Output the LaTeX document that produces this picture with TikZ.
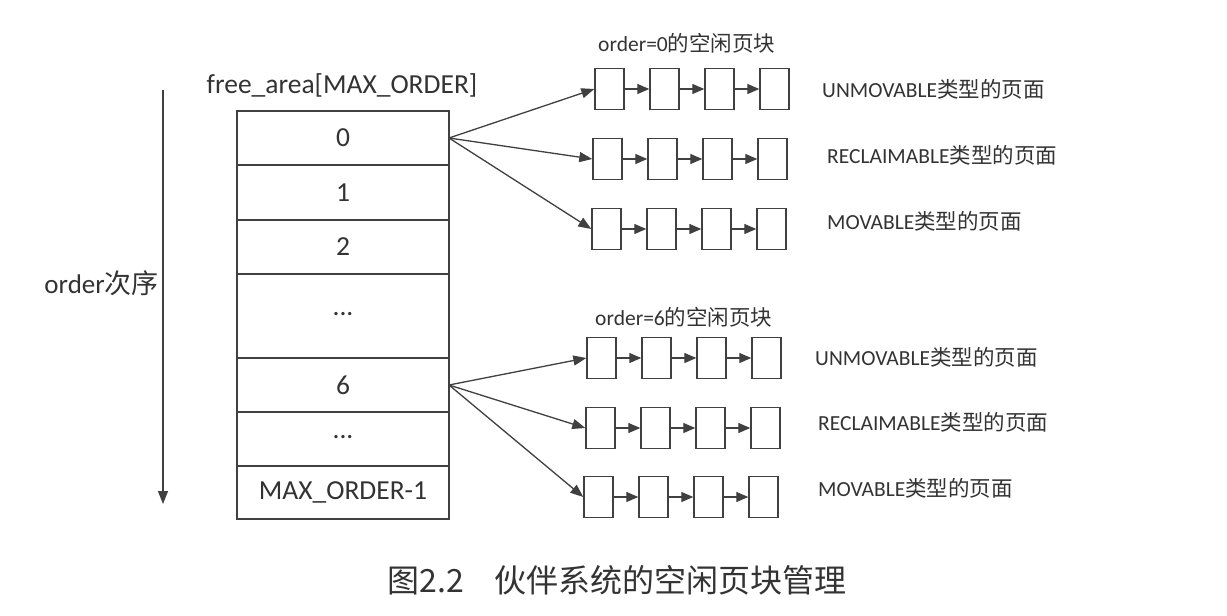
\documentclass[tikz,border=0pt]{standalone}
\usepackage{fontspec}
\setmainfont{Carlito}
\newfontfamily\cjk{Noto Sans CJK SC}
\usetikzlibrary{arrows.meta}
\definecolor{ink}{HTML}{333333}
\definecolor{linec}{HTML}{404040}
\begin{document}
\begin{tikzpicture}[x=1pt,y=-1pt,
  every node/.style={text=ink},
  cell/.style={draw=linec,line width=1.5pt,minimum width=212pt,inner sep=0pt,font=\fontsize{27.5}{32}\selectfont},
  pg/.style={draw=linec,line width=1.4pt,minimum width=29pt,minimum height=41pt,inner sep=0pt},
  lbl/.style={anchor=west,inner sep=0pt,font=\fontsize{21.5}{26}\selectfont},
  hdr/.style={anchor=west,inner sep=0pt,font=\fontsize{21.5}{26}\selectfont},
  arr/.style={draw=linec,line width=1.3pt,-{Triangle[length=13pt,width=10pt]}},
  link/.style={draw=linec,line width=1.3pt,-{Triangle[length=12pt,width=10pt]}}
]
\useasboundingbox (0,0) rectangle (1227,616);
\fill[white] (0,0) rectangle (1227,616);

% header of the array
\node[inner sep=0pt,font=\fontsize{27.5}{32}\selectfont] (fa) at (342,85) {free\_area[MAX\_ORDER]};

% table cells
\node[cell,minimum height=54pt] (t0) at (343,138) {0};
\node[cell,minimum height=55pt] (t1) at (343,192.5) {1};
\node[cell,minimum height=54pt] (t2) at (343,247) {2};
\node[cell,minimum height=84pt] (t3) at (343,316) {\raisebox{4pt}{...}};
\node[cell,minimum height=54pt] (t6) at (343,385) {6};
\node[cell,minimum height=54pt] (t7) at (343,439) {\raisebox{4pt}{...}};
\node[cell,minimum height=53pt] (t8) at (343,492.5) {MAX\_ORDER-1};

% order axis
\coordinate (os) at (163,90);
\coordinate (oe) at (163,504);
\draw[arr] (os) -- (oe);
\node[anchor=east,inner sep=0pt,font=\fontsize{27}{32}\selectfont] (ord) at (159,283) {order{\cjk\fontsize{27}{32}\selectfont 次序}};

% page lists
\foreach \r/\x/\y in {1/595/89, 2/593/159, 3/592/229, 4/587/358, 5/586/428, 6/584/497}{
  \foreach \i in {1,2,3,4}{
    \node[pg] (b\r-\i) at ({\x+14.5+55*(\i-1)},\y) {};
  }
  \draw[link] (b\r-1.east) -- (b\r-2.west);
  \draw[link] (b\r-2.east) -- (b\r-3.west);
  \draw[link] (b\r-3.east) -- (b\r-4.west);
}

% fan-out arrows
\coordinate (s0) at (449,138);
\coordinate (s6) at (449,385);
\draw[arr] (s0) -- (b1-1.west);
\draw[arr] (s0) -- (b2-1.west);
\draw[arr] (s0) -- (b3-1.west);
\draw[arr] (s6) -- (b4-1.west);
\draw[arr] (s6) -- (b5-1.west);
\draw[arr] (s6) -- (b6-1.west);

% group headers
\node[hdr] (h0) at (598,43) {order=0{\cjk 的空闲页块}};
\node[hdr] (h6) at (595,317) {order=6{\cjk 的空闲页块}};

% type labels
\node[lbl] (l1) at (822,89) {UNMOVABLE{\cjk 类型的页面}};
\node[lbl] (l2) at (827,155) {RECLAIMABLE{\cjk 类型的页面}};
\node[lbl] (l3) at (827,221) {MOVABLE{\cjk 类型的页面}};
\node[lbl] (l4) at (815,357) {UNMOVABLE{\cjk 类型的页面}};
\node[lbl] (l5) at (818,422) {RECLAIMABLE{\cjk 类型的页面}};
\node[lbl] (l6) at (818,488) {MOVABLE{\cjk 类型的页面}};

% caption
\node[inner sep=0pt,font=\cjk\fontsize{32}{38}\selectfont] (cap) at (617,580) {图2.2\hspace{30pt}伙伴系统的空闲页块管理};
\end{tikzpicture}
\end{document}
